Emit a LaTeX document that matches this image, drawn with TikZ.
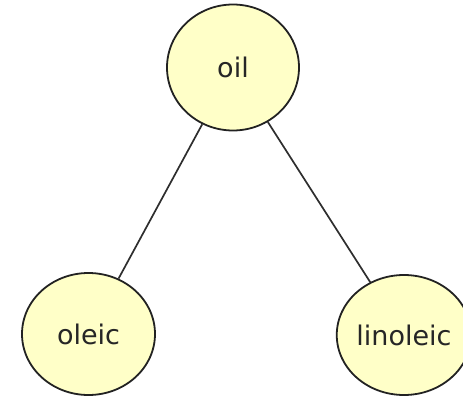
\documentclass[tikz,border=0pt]{standalone}
\usepackage{fontspec}
\setmainfont{DejaVu Sans}
\usetikzlibrary{shapes.geometric}
\definecolor{nodefill}{HTML}{FFFFC8}
\definecolor{nodeline}{HTML}{222222}
\definecolor{edgeline}{HTML}{2E2E2E}
\tikzset{
  term/.style={ellipse, draw=nodeline, line width=1.8pt, fill=nodefill,
    inner sep=0pt, font=\fontsize{27}{31}\selectfont, text=black!85},
  link/.style={draw=edgeline, line width=1.7pt}
}
\begin{document}
\begin{tikzpicture}[x=1pt,y=1pt]
  \useasboundingbox (0,0) rectangle (463,397);
  \node[term, minimum width=132pt, minimum height=126pt] (oil) at (233,329.5) {oil};
  \node[term, minimum width=133pt, minimum height=122pt] (oleic) at (88.5,63) {oleic};
  \node[term, minimum width=121pt, minimum height=120pt] (linoleic) at (404,62) {linoleic};
  \draw[link] (oil) -- (oleic);
  \draw[link] (oil) -- (linoleic);
\end{tikzpicture}
\end{document}
